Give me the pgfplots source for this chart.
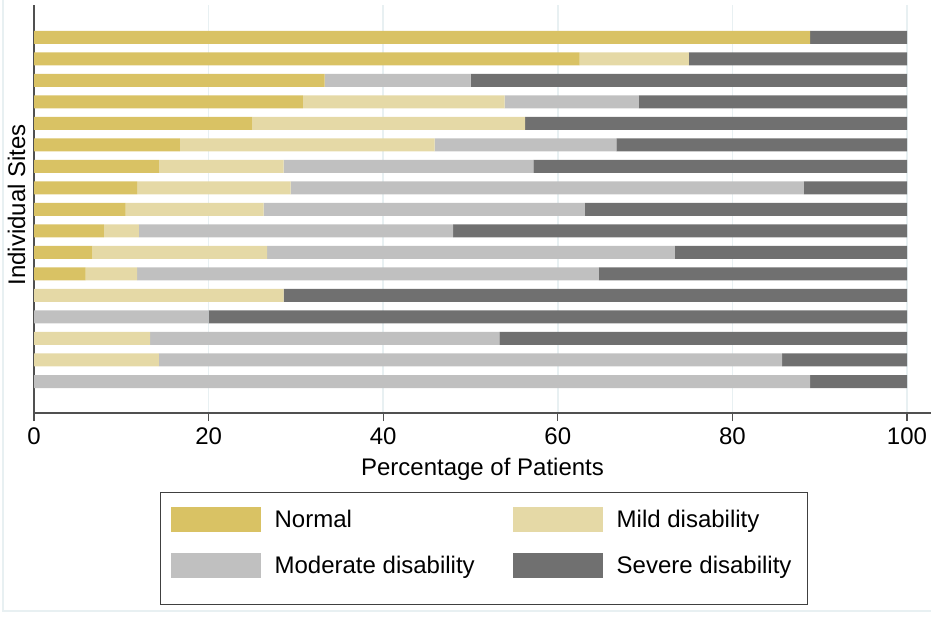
\documentclass[border=0pt]{standalone}
\usepackage{fontspec}
\setmainfont{Liberation Sans}
\usepackage{pgfplots}
\usepackage{pgfplotstable}
\pgfplotsset{compat=1.18}

\definecolor{cnormal}{RGB}{217,194,100}
\definecolor{cmild}{RGB}{229,217,166}
\definecolor{cmod}{RGB}{192,192,192}
\definecolor{csev}{RGB}{112,112,112}
\definecolor{gridc}{RGB}{232,240,242}
\definecolor{axc}{RGB}{80,80,80}

% one row per site, top bar = 17
\pgfplotstableread{
y  normal mild  moderate severe
17 88.9   0     0        11.1
16 62.5   12.5  0        25.0
15 33.3   0     16.7     50.0
14 30.8   23.1  15.4     30.7
13 25.0   31.25 0        43.75
12 16.7   29.2  20.8     33.3
11 14.3   14.3  28.6     42.8
10 11.8   17.6  58.8     11.8
9  10.5   15.8  36.8     36.9
8  8.0    4.0   36.0     52.0
7  6.7    20.0  46.7     26.6
6  5.9    5.9   52.9     35.3
5  0      28.6  0        71.4
4  0      0     20.0     80.0
3  0      13.3  40.0     46.7
2  0      14.3  71.4     14.3
1  0      0     88.9     11.1
}\sites

\pgfplotsset{swatch/.style={legend image code/.code={%
  \fill[##1] (0pt,-6.25pt) rectangle (45pt,6.25pt);
  \path (0pt,-12.75pt);}}}

\begin{document}
\begin{tikzpicture}
\path[use as bounding box] (0,0) rectangle (465.5pt,308pt);
% faint outer frame of the graph region
\draw[gridc, line width=0.6pt] (1.5pt,308pt) -- (1.5pt,2.5pt) -- (465.5pt,2.5pt);
\begin{axis}[
  at={(17pt,101.5pt)}, anchor=south west,
  scale only axis, width=448.5pt, height=204pt,
  xbar stacked, bar width=6.5pt,
  xmin=0, xmax=102.75, ymin=-0.465, ymax=18.51,
  axis lines*=left,
  axis line style={axc, line width=0.8pt},
  xtick={0,20,...,100}, ytick=\empty,
  tick align=outside, major tick length=4pt,
  tick style={axc, line width=0.6pt},
  xmajorgrids, major grid style={gridc, line width=0.8pt},
  /pgf/number format/assume math mode=true,
  ticklabel style={font=\fontsize{12}{14}\selectfont},
  xlabel={Percentage of Patients},
  xlabel style={at={(axis description cs:0.5,0)}, anchor=base, yshift=-31pt,
    font=\fontsize{12}{14}\selectfont},
  ylabel={Individual Sites},
  ylabel style={at={(axis description cs:-0.01003,0.51)}, anchor=base,
    font=\fontsize{12}{14}\selectfont},
  legend columns=2,
  legend cell align=left,
  legend style={at={(axis description cs:0.1405,-0.1936)}, anchor=north west,
    draw=black!75, line width=0.6pt, inner xsep=5pt, inner ysep=7pt, row sep=4pt,
    font=\fontsize{12}{14}\selectfont,
    nodes={inner sep=0pt, text height=8.6pt, text depth=0pt},
    /tikz/every odd column/.style={column sep=7pt},
    /tikz/every even column/.style={column sep=19pt}},
]
\addplot[fill=cnormal, draw=none, swatch] table[x=normal, y=y] {\sites};
\addplot[fill=cmild, draw=none, swatch] table[x=mild, y=y] {\sites};
\addplot[fill=cmod, draw=none, swatch] table[x=moderate, y=y] {\sites};
\addplot[fill=csev, draw=none, swatch] table[x=severe, y=y] {\sites};
\legend{Normal, Mild disability, Moderate disability, Severe disability\rule{3pt}{0pt}}
\end{axis}
\end{tikzpicture}
\end{document}
